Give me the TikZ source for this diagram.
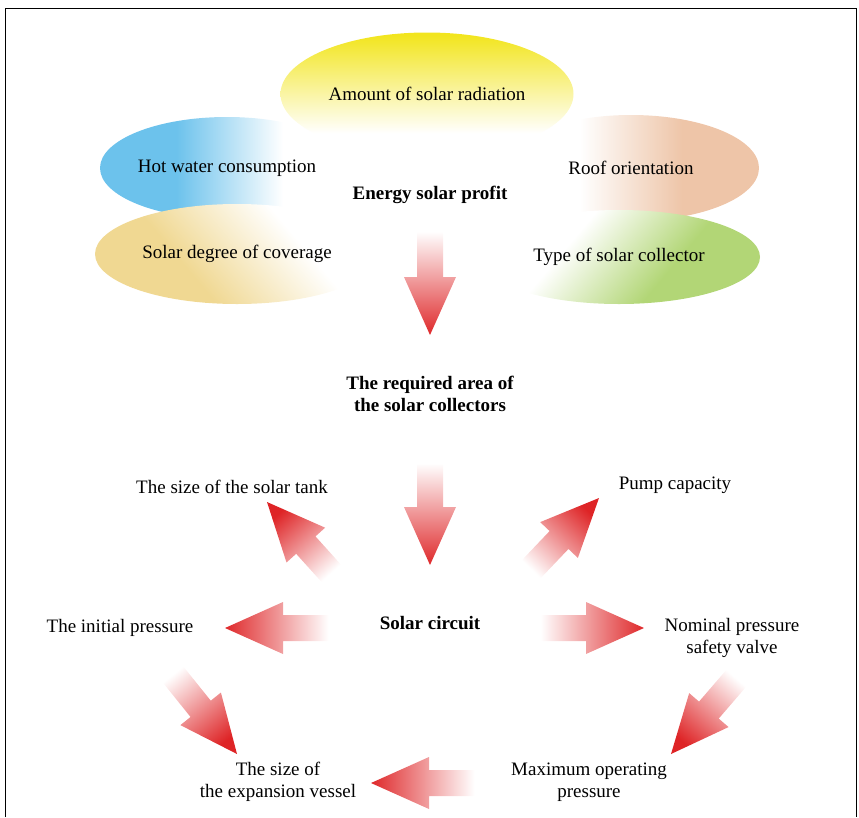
\documentclass[tikz,border=0pt]{standalone}
\usepackage{fontspec}
\setmainfont{Liberation Serif}
\usepackage{xcolor}
\usepackage{tikz}
\usetikzlibrary{calc,shapes,positioning}

\definecolor{skyblue}{RGB}{108,194,236}
\definecolor{sunyellow}{RGB}{242,229,30}
\definecolor{peach}{RGB}{238,197,168}
\definecolor{sand}{RGB}{240,216,146}
\definecolor{leaf}{RGB}{178,214,118}
\definecolor{arrowred}{RGB}{222,36,38}

\pgfdeclareverticalshading{yellowfade}{100bp}{color(0bp)=(white); color(34bp)=(white); color(74bp)=(sunyellow); color(100bp)=(sunyellow)}
\pgfdeclarehorizontalshading{bluefade}{100bp}{color(0bp)=(skyblue); color(40bp)=(skyblue); color(61bp)=(white); color(100bp)=(white)}
\pgfdeclarehorizontalshading{peachfade}{100bp}{color(0bp)=(white); color(40bp)=(white); color(60bp)=(peach); color(100bp)=(peach)}
\pgfdeclarehorizontalshading{sandfade}{100bp}{color(0bp)=(sand); color(38bp)=(sand); color(64bp)=(white); color(100bp)=(white)}
\pgfdeclarehorizontalshading{leaffade}{100bp}{color(0bp)=(white); color(38bp)=(white); color(62bp)=(leaf); color(100bp)=(leaf)}
\pgfdeclareverticalshading{redfade}{100bp}{color(0bp)=(white); color(30bp)=(white); color(76bp)=(arrowred); color(100bp)=(arrowred)}

\tikzset{
  lbl/.style={font=\fontsize{19}{22}\selectfont, align=center, inner sep=0pt},
  hdr/.style={lbl, font=\fontsize{19}{22}\selectfont\bfseries},
  blob/.style={ellipse, draw=none, lbl}
}

\newcommand{\fadearrow}[2]{%
  \pgfmathanglebetweenpoints{\pgfpointanchor{#1}{center}}{\pgfpointanchor{#2}{center}}%
  \pgfmathsetmacro{\shadeang}{\pgfmathresult-90}%
  \coordinate (hb) at ($(#2)!58pt!(#1)$);
  \path[shading=redfade, shading angle=\shadeang]
    ($(#1)!13pt!90:(#2)$) -- ($(hb)!13pt!-90:(#1)$) -- ($(hb)!26pt!-90:(#1)$)
    -- (#2) -- ($(hb)!26pt!90:(#1)$) -- ($(hb)!13pt!90:(#1)$)
    -- ($(#1)!13pt!-90:(#2)$) -- cycle;
}

\begin{document}
\begin{tikzpicture}[x=1pt,y=-1pt]
\useasboundingbox (0,0) rectangle (859,817);
\draw[line width=0.8pt] (5,817) -- (5,8) -- (856,8) -- (856,817);

\node[blob, shading=bluefade, minimum width=254, minimum height=102] (water) at (227,168) {Hot water consumption};
\node[blob, shading=peachfade, minimum width=256, minimum height=106] (roof) at (631,168) {Roof orientation};
\node[blob, shading=sandfade, shading angle=40, minimum width=284, minimum height=100] (cover) at (237,254) {Solar degree of coverage};
\node[blob, shading=leaffade, shading angle=-40, minimum width=282, minimum height=94] (coll) at (619,257) {Type of solar collector};
\node[blob, shading=yellowfade, minimum width=293, minimum height=123] (rad) at (427,94) {Amount of solar radiation};

\node[hdr] (profit) at (430,195) {Energy solar profit};
\node[hdr] (area) at (430,394) {The required area of\\the solar collectors};
\node[hdr] (circuit) at (430,623) {Solar circuit};

\node[lbl] (tank) at (232,487) {The size of the solar tank};
\node[lbl] (pump) at (675,485) {Pump capacity};
\node[lbl] (init) at (120,628) {The initial pressure};
\node[lbl] (valve) at (732,638) {Nominal pressure\\safety valve};
\node[lbl] (vessel) at (278,782) {The size of\\the expansion vessel};
\node[lbl] (maxp) at (589,782) {Maximum operating\\pressure};

\coordinate (a1) at (430,220); \coordinate (b1) at (430,335);
\coordinate (a2) at (430,452); \coordinate (b2) at (430,565);
\coordinate (a3) at (340,583); \coordinate (b3) at (267,502);
\coordinate (a4) at (521,580); \coordinate (b4) at (599,498);
\coordinate (a5) at (340,628); \coordinate (b5) at (225,628);
\coordinate (a6) at (529,628); \coordinate (b6) at (644,628);
\coordinate (a7) at (163,662); \coordinate (b7) at (237,754);
\coordinate (a8) at (746,667); \coordinate (b8) at (671,754);
\coordinate (a9) at (486,783); \coordinate (b9) at (371,783);

\foreach \i in {1,...,9} {\fadearrow{a\i}{b\i}}
\end{tikzpicture}
\end{document}
